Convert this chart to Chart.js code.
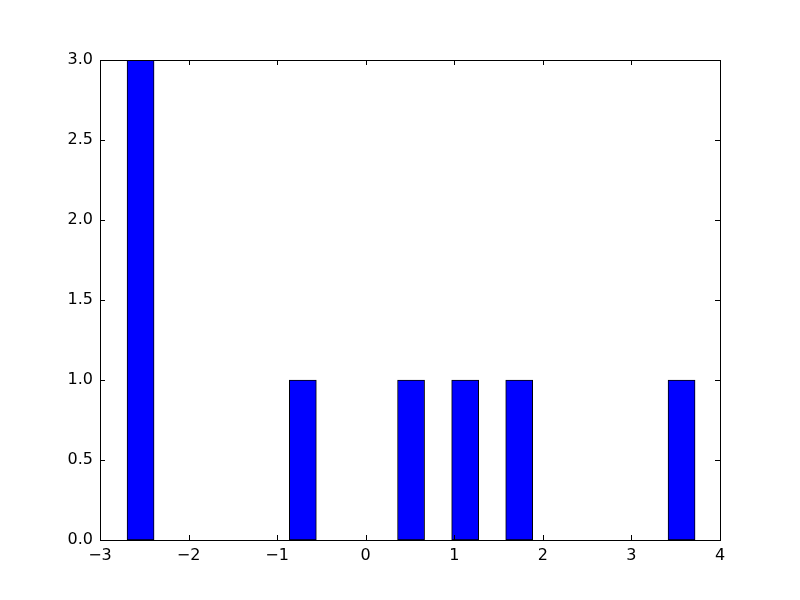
<!DOCTYPE html>
<html>
<head>
<meta charset="utf-8">
<script src="https://cdn.jsdelivr.net/npm/chart.js@4/dist/chart.umd.min.js"></script>
<style>
  html, body { margin: 0; padding: 0; background: #fff; }
  canvas { display: block; }
</style>
</head>
<body>
<canvas id="hist" width="800" height="600"></canvas>
<script>
// histogram bins (centres) and counts
var binCenters = [-2.542, -2.237, -1.932, -1.626, -1.321, -1.015, -0.710, -0.405, -0.099, 0.206,
                  0.512, 0.817, 1.123, 1.428, 1.733, 2.039, 2.344, 2.650, 2.955, 3.260, 3.566];
var counts = [3, 0, 0, 0, 0, 0, 1, 0, 0, 0, 1, 0, 1, 0, 1, 0, 0, 0, 0, 0, 1];
var xTicks = [-3, -2, -1, 0, 1, 2, 3, 4];
var yTicks = [0.0, 0.5, 1.0, 1.5, 2.0, 2.5, 3.0];

var points = binCenters.map(function (c, i) { return { x: c, y: counts[i] }; });

// box round the plot plus inward tick marks on all four sides
var frameTicks = {
    id: 'frameTicks',
    afterDraw: function (chart) {
        var ctx = chart.ctx, a = chart.chartArea;
        var xs = chart.scales.x, ys = chart.scales.y;
        var len = 5;
        ctx.save();
        ctx.strokeStyle = '#000';
        ctx.lineWidth = 1;
        ctx.beginPath();
        xTicks.forEach(function (v) {
            var px = Math.round(xs.getPixelForValue(v)) + 0.5;
            ctx.moveTo(px, a.bottom); ctx.lineTo(px, a.bottom - len);
            ctx.moveTo(px, a.top); ctx.lineTo(px, a.top + len);
        });
        yTicks.forEach(function (v) {
            var py = Math.round(ys.getPixelForValue(v)) + 0.5;
            ctx.moveTo(a.left, py); ctx.lineTo(a.left + len, py);
            ctx.moveTo(a.right, py); ctx.lineTo(a.right - len, py);
        });
        ctx.stroke();
        ctx.strokeRect(Math.round(a.left) + 0.5, Math.round(a.top) + 0.5,
                       Math.round(a.right - a.left), Math.round(a.bottom - a.top));
        ctx.restore();
    }
};

var fmtMinus = function (v) { return String(v).replace('-', '\u2212'); };

new Chart(document.getElementById('hist'), {
    type: 'bar',
    data: {
        datasets: [{
            data: points,
            backgroundColor: '#0000ff',
            borderColor: '#000000',
            borderWidth: 1,
            borderSkipped: false,
            barPercentage: 1.0,
            categoryPercentage: 1.0
        }]
    },
    options: {
        responsive: false,
        animation: false,
        layout: { padding: { top: 60, right: 80, left: 0, bottom: 0 } },
        plugins: { legend: { display: false }, tooltip: { enabled: false } },
        scales: {
            x: {
                type: 'linear',
                min: -3, max: 4,
                offset: false,
                grid: { display: false, drawTicks: false },
                border: { display: false },
                afterBuildTicks: function (s) { s.ticks = xTicks.map(function (v) { return { value: v }; }); },
                afterFit: function (s) { s.height = 60; },
                ticks: {
                    padding: 6,
                    color: '#000',
                    font: { family: 'DejaVu Sans', size: 16 },
                    maxRotation: 0,
                    callback: function (v) { return fmtMinus(v); }
                }
            },
            y: {
                min: 0, max: 3,
                grid: { display: false, drawTicks: false },
                border: { display: false },
                afterBuildTicks: function (s) { s.ticks = yTicks.map(function (v) { return { value: v }; }); },
                afterFit: function (s) { s.width = 100; },
                ticks: {
                    padding: 7,
                    color: '#000',
                    font: { family: 'DejaVu Sans', size: 16 },
                    callback: function (v) { return v.toFixed(1); }
                }
            }
        }
    },
    plugins: [frameTicks]
});
</script>
</body>
</html>
